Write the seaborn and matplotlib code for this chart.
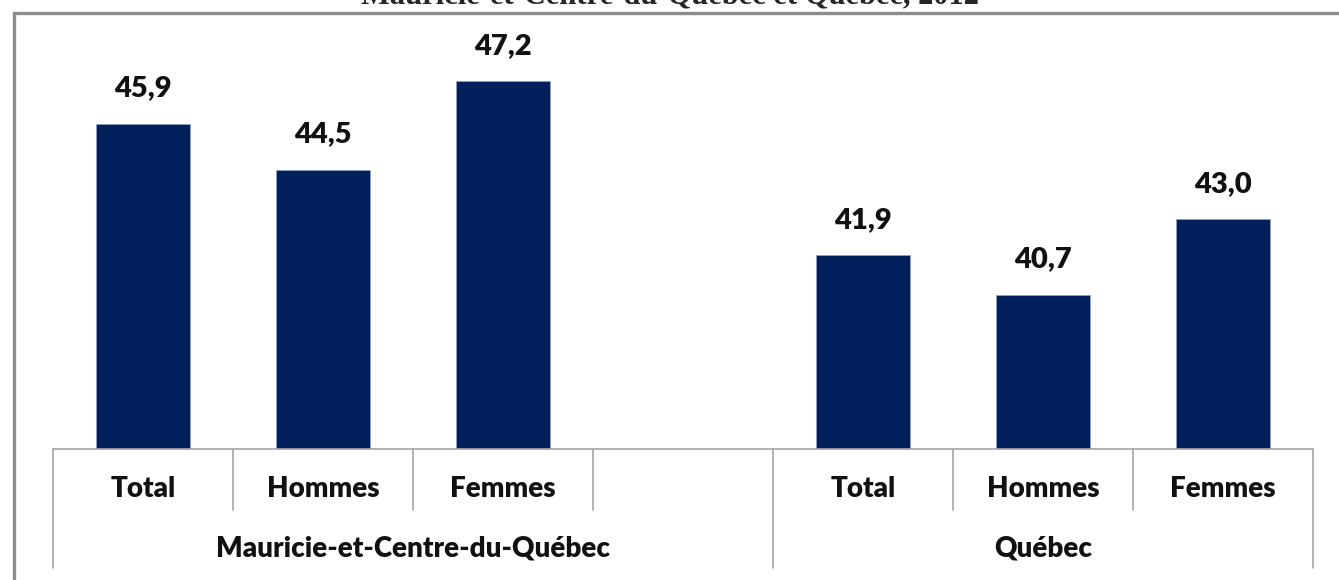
import pandas as pd
import matplotlib
matplotlib.use("Agg")
import matplotlib.pyplot as plt
import seaborn as sns
from matplotlib.patches import Rectangle
from matplotlib.transforms import blended_transform_factory

# Data
groups = ["Mauricie-et-Centre-du-Québec", "Québec"]
sexes = ["Total", "Hommes", "Femmes"]
mcq_values = [45.9, 44.5, 47.2]
qc_values = [41.9, 40.7, 43.0]
title = "Mauricie-et-Centre-du-Québec et Québec, 2012"

rows = []
for g, vals in zip(groups, [mcq_values, qc_values]):
    for s, v in zip(sexes, vals):
        rows.append({"key": f"{g}|{s}", "group": g, "sexe": s, "valeur": v})
df = pd.DataFrame(rows)

# empty slot between the two groups
order = [f"{groups[0]}|{s}" for s in sexes] + ["_gap"] + [f"{groups[1]}|{s}" for s in sexes]

sns.set_theme(style="white")
plt.rcParams["font.family"] = ["Lato", "DejaVu Sans"]

W, H = 1339, 580
fig = plt.figure(figsize=(W / 100, H / 100), dpi=100)

# axes geometry in pixels
px_left, px_right, px_bottom, px_top = 53, 1313, 449, 35
ax = fig.add_axes([px_left / W, (H - px_bottom) / H,
                   (px_right - px_left) / W, (px_bottom - px_top) / H])

bar_color = "#001f5b"
sns.barplot(data=df, x="key", y="valeur", order=order, color=bar_color,
            width=0.52, saturation=1, edgecolor="#8ea0c8", linewidth=0.6,
            errorbar=None, ax=ax)

ax.set_xlim(-0.5, len(order) - 0.5)
ax.set_ylim(36, 48.6)
ax.set_xticks([])
ax.set_yticks([])
ax.set_xlabel("")
ax.set_ylabel("")
for sp in ax.spines.values():
    sp.set_visible(False)

# value labels
for i, k in enumerate(order):
    sub = df[df["key"] == k]
    if sub.empty:
        continue
    v = sub["valeur"].iloc[0]
    ax.annotate(f"{v:.1f}".replace(".", ","), (i, v), xytext=(0, 16),
                textcoords="offset points", ha="center", va="bottom",
                fontsize=21, fontweight="heavy", color="#111111")

# category axis (two-level)
line_c = "#a6a6a6"
trans = blended_transform_factory(ax.transData, ax.transAxes)
span = px_bottom - px_top
short_y = (px_bottom - 510) / span
long_y = (px_bottom - 568) / span
row1_y = (px_bottom - 489) / span
row2_y = (px_bottom - 549) / span

ax.plot([-0.5, len(order) - 0.5], [0, 0], transform=trans, color=line_c,
        lw=1.2, clip_on=False)

group_edges = [-0.5, 3.5, 6.5]
for x in range(len(order) + 1):
    xe = x - 0.5
    y_end = long_y if xe in group_edges else short_y
    ax.plot([xe, xe], [0, y_end], transform=trans, color=line_c, lw=1.2,
            clip_on=False)

for i, k in enumerate(order):
    if k == "_gap":
        continue
    ax.text(i, row1_y, k.split("|")[1], transform=trans, ha="center",
            va="center", fontsize=20, fontweight="heavy", color="#111111")

for g, (a, b) in zip(groups, [(-0.5, 3.5), (3.5, 6.5)]):
    ax.text((a + b) / 2, row2_y, g, transform=trans, ha="center",
            va="center", fontsize=20, fontweight="heavy", color="#111111")

# outer frame (cut at right and bottom)
fig.patches.append(Rectangle((13.5 / W, -0.1), 1.2, (H - 12.5) / H + 0.1,
                             transform=fig.transFigure, fill=False,
                             edgecolor="#8c8c8c", lw=2.4))

# title, mostly cut off at the top
fig.text(670 / W, 1 - 3 / H, title, ha="center", va="baseline",
         fontsize=22, fontweight="bold", family="Liberation Serif")

fig.savefig("out.png", dpi=100)
